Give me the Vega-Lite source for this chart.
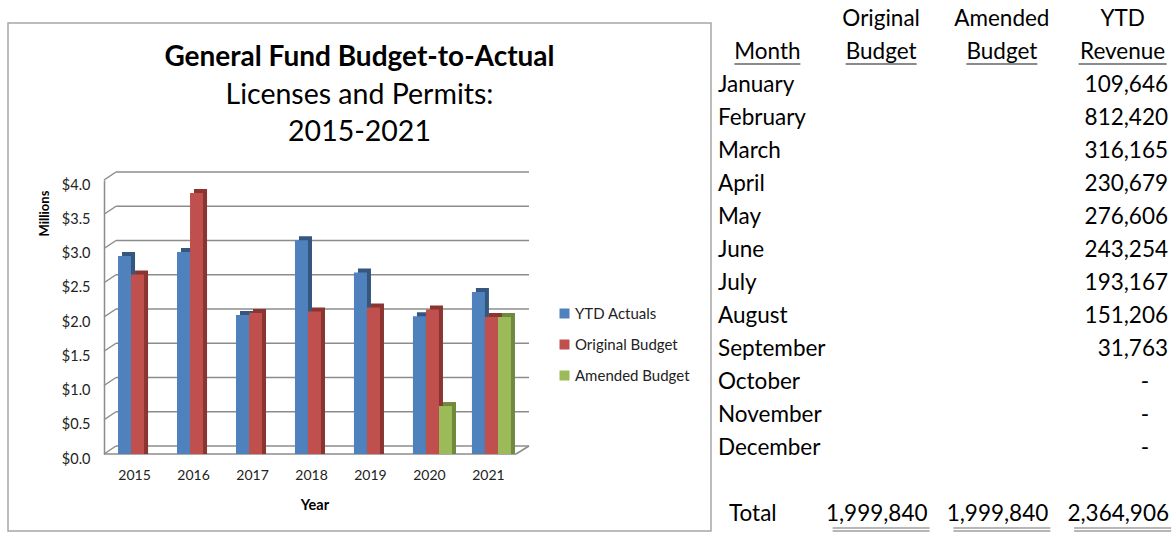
{
  "$schema": "https://vega.github.io/schema/vega-lite/v6.json",
  "background": "white",
  "padding": {"left": 7, "top": 8, "right": 7, "bottom": 0},
  "bounds": "flush",
  "spacing": 2,
  "config": {"font": "Lato", "view": {"stroke": null}},
  "datasets": {
    "bars": [
      {"year": "2015", "series": "YTD Actuals", "value": 2.89},
      {"year": "2015", "series": "Original Budget", "value": 2.62},
      {"year": "2016", "series": "YTD Actuals", "value": 2.95},
      {"year": "2016", "series": "Original Budget", "value": 3.81},
      {"year": "2017", "series": "YTD Actuals", "value": 2.03},
      {"year": "2017", "series": "Original Budget", "value": 2.06},
      {"year": "2018", "series": "YTD Actuals", "value": 3.12},
      {"year": "2018", "series": "Original Budget", "value": 2.08},
      {"year": "2019", "series": "YTD Actuals", "value": 2.65},
      {"year": "2019", "series": "Original Budget", "value": 2.14},
      {"year": "2020", "series": "YTD Actuals", "value": 2.01},
      {"year": "2020", "series": "Original Budget", "value": 2.11},
      {"year": "2020", "series": "Amended Budget", "value": 0.70},
      {"year": "2021", "series": "YTD Actuals", "value": 2.364906},
      {"year": "2021", "series": "Original Budget", "value": 1.99984},
      {"year": "2021", "series": "Amended Budget", "value": 1.99984}
    ],
    "grid": [{"v": 0}, {"v": 0.5}, {"v": 1}, {"v": 1.5}, {"v": 2}, {"v": 2.5}, {"v": 3}, {"v": 3.5}, {"v": 4}],
    "headers": [
      {"row": "h1", "col": "Original Budget", "text": "Original"},
      {"row": "h1", "col": "Amended Budget", "text": "Amended"},
      {"row": "h1", "col": "YTD Revenue", "text": "YTD"},
      {"row": "h2", "col": "Month", "text": "Month"},
      {"row": "h2", "col": "Original Budget", "text": "Budget"},
      {"row": "h2", "col": "Amended Budget", "text": "Budget"},
      {"row": "h2", "col": "YTD Revenue", "text": "Revenue"},
      {"row": "Total", "col": "Month", "text": "Total"}
    ],
    "monthly": [
      {"row": "January", "ytd": 109646},
      {"row": "February", "ytd": 812420},
      {"row": "March", "ytd": 316165},
      {"row": "April", "ytd": 230679},
      {"row": "May", "ytd": 276606},
      {"row": "June", "ytd": 243254},
      {"row": "July", "ytd": 193167},
      {"row": "August", "ytd": 151206},
      {"row": "September", "ytd": 31763},
      {"row": "October", "ytd": null},
      {"row": "November", "ytd": null},
      {"row": "December", "ytd": null}
    ],
    "totals": [
      {"row": "Total", "col": "Original Budget", "value": 1999840},
      {"row": "Total", "col": "Amended Budget", "value": 1999840},
      {"row": "Total", "col": "YTD Revenue", "value": 2364906}
    ]
  },
  "hconcat": [
    {
      "width": 703,
      "height": 508,
      "view": {"stroke": "#a6a6a6", "strokeWidth": 1.5},
      "title": {
        "text": "General Fund Budget-to-Actual",
        "subtitle": ["Licenses and Permits:", "2015-2021"],
        "anchor": "middle",
        "frame": "group",
        "offset": -123,
        "font": "Lato",
        "fontSize": 28,
        "fontWeight": "bold",
        "color": "#000000",
        "subtitleFont": "Lato",
        "subtitleFontSize": 28.5,
        "subtitleColor": "#000000",
        "subtitleLineHeight": 37,
        "subtitlePadding": 9
      },
      "layer": [
        {
          "data": {"name": "grid"},
          "mark": {"type": "rule", "color": "#8c8c8c", "strokeWidth": 1.5, "yOffset": -8},
          "encoding": {
            "x": {"datum": 12, "type": "quantitative", "scale": {"domain": [0, 425], "range": [96, 521]}, "axis": null},
            "x2": {"datum": 425},
            "y": {"field": "v", "type": "quantitative", "scale": {"domain": [0, 4], "range": [431, 157], "nice": false}}
          }
        },
        {
          "data": {"name": "grid"},
          "mark": {"type": "rule", "color": "#8c8c8c", "strokeWidth": 1.5, "y2Offset": -8},
          "encoding": {
            "x": {"datum": 0, "type": "quantitative", "scale": {"domain": [0, 425], "range": [96, 521]}, "axis": null},
            "x2": {"datum": 12},
            "y": {"field": "v", "type": "quantitative", "scale": {"domain": [0, 4], "range": [431, 157], "nice": false}},
            "y2": {"field": "v"}
          }
        },
        {
          "data": {"name": "grid"},
          "transform": [{"filter": "datum.v == 0"}],
          "mark": {"type": "rule", "color": "#8c8c8c", "strokeWidth": 1.5},
          "encoding": {
            "x": {"datum": 0, "type": "quantitative", "scale": {"domain": [0, 425], "range": [96, 521]}, "axis": null},
            "x2": {"datum": 412},
            "y": {"field": "v", "type": "quantitative", "scale": {"domain": [0, 4], "range": [431, 157], "nice": false}}
          }
        },
        {
          "data": {"name": "grid"},
          "transform": [{"filter": "datum.v == 0"}],
          "mark": {"type": "rule", "color": "#8c8c8c", "strokeWidth": 1.5, "y2Offset": -8},
          "encoding": {
            "x": {"datum": 412, "type": "quantitative", "scale": {"domain": [0, 425], "range": [96, 521]}, "axis": null},
            "x2": {"datum": 425},
            "y": {"field": "v", "type": "quantitative", "scale": {"domain": [0, 4], "range": [431, 157], "nice": false}},
            "y2": {"field": "v"}
          }
        },
        {
          "data": {"name": "bars"},
          "mark": {"type": "bar", "yOffset": -4},
          "encoding": {
            "x": {"field": "year", "type": "nominal", "scale": {"range": [104, 517], "paddingInner": 0.338, "paddingOuter": 0.17}, "axis": null},
            "xOffset": {"field": "series", "type": "nominal", "scale": {"domain": ["YTD Actuals", "Original Budget", "Amended Budget"], "paddingInner": 0, "paddingOuter": 0}},
            "y": {"field": "value", "type": "quantitative", "stack": null, "scale": {"domain": [0, 4], "range": [431, 157], "nice": false}},
            "color": {"field": "series", "type": "nominal", "scale": {"domain": ["YTD Actuals", "Original Budget", "Amended Budget"], "range": ["#34567f", "#8a3532", "#6f8a3c"]}, "legend": null}
          }
        },
        {
          "data": {"name": "bars"},
          "mark": {"type": "bar"},
          "encoding": {
            "x": {
              "field": "year", "type": "nominal",
              "scale": {"range": [100, 513], "paddingInner": 0.338, "paddingOuter": 0.17},
              "axis": {
                "orient": "bottom", "offset": -77, "domain": false, "ticks": false, "tickSize": 0,
                "labelPadding": 14, "labelAngle": 0, "labelFontSize": 14, "labelColor": "#222222", "labelOffset": -3,
                "title": "Year", "titleFontSize": 14.5, "titleFontWeight": "bold", "titleColor": "#000000", "titlePadding": 16
              }
            },
            "xOffset": {"field": "series", "type": "nominal", "scale": {"domain": ["YTD Actuals", "Original Budget", "Amended Budget"], "paddingInner": 0, "paddingOuter": 0}},
            "y": {
              "field": "value", "type": "quantitative", "stack": null,
              "scale": {"domain": [0, 4], "range": [431, 157], "nice": false},
              "axis": {
                "orient": "left", "offset": -96, "values": [0, 0.5, 1, 1.5, 2, 2.5, 3, 3.5, 4], "format": "$.1f",
                "domain": true, "domainColor": "#8c8c8c", "domainWidth": 1.5, "ticks": false, "tickSize": 0, "grid": false,
                "labelPadding": 14, "labelFontSize": 14.5, "labelColor": "#222222", "labelOffset": 5,
                "title": "Millions", "titleFontSize": 13, "titleFontWeight": "bold", "titleColor": "#000000", "titleX": -53, "titleY": 190
              }
            },
            "color": {
              "field": "series", "type": "nominal",
              "scale": {"domain": ["YTD Actuals", "Original Budget", "Amended Budget"], "range": ["#4f81bd", "#c0504d", "#9bbb59"]},
              "legend": {
                "orient": "none", "legendX": 549, "legendY": 283, "title": null, "padding": 0,
                "symbolType": "square", "symbolSize": 100, "symbolStrokeWidth": 0,
                "labelFontSize": 15, "labelColor": "#222222", "labelOffset": 3, "rowPadding": 15
              }
            }
          }
        }
      ],
      "resolve": {"scale": {"x": "independent", "xOffset": "independent", "color": "independent"}}
    },
    {
      "width": 457,
      "height": 508,
      "view": {"stroke": null},
      "layer": [
        {
          "data": {"name": "headers"},
          "transform": [{"filter": "datum.col != 'Month'"}],
          "mark": {"type": "text", "align": "center", "baseline": "middle", "fontSize": 22.5, "color": "#000000"},
          "encoding": {
            "x": {"field": "col", "type": "nominal", "scale": {"domain": ["Month", "Original Budget", "Amended Budget", "YTD Revenue"], "paddingInner": 0.215, "paddingOuter": 0}, "axis": null},
            "y": {"field": "row", "type": "nominal", "scale": {"type": "point", "domain": ["h1", "h2", "January", "February", "March", "April", "May", "June", "July", "August", "September", "October", "November", "December", "gap", "Total"], "range": [-4, 491], "padding": 0}, "axis": null},
            "text": {"field": "text"}
          }
        },
        {
          "data": {"name": "headers"},
          "transform": [{"filter": "datum.row == 'h2' && datum.col == 'Month'"}],
          "mark": {"type": "text", "align": "center", "baseline": "middle", "fontSize": 22.5, "color": "#000000", "dx": 7},
          "encoding": {
            "x": {"field": "col", "type": "nominal", "axis": null},
            "y": {"field": "row", "type": "nominal", "axis": null},
            "text": {"field": "text"}
          }
        },
        {
          "data": {"name": "headers"},
          "transform": [{"filter": "datum.row == 'Total'"}],
          "mark": {"type": "text", "align": "left", "baseline": "middle", "fontSize": 22.5, "color": "#000000", "dx": 16},
          "encoding": {
            "x": {"field": "col", "type": "nominal", "bandPosition": 0, "axis": null},
            "y": {"field": "row", "type": "nominal", "axis": null},
            "text": {"field": "text"}
          }
        },
        {
          "data": {"name": "headers"},
          "transform": [{"filter": "datum.row == 'h2' && datum.col != 'Month'"}],
          "mark": {"type": "tick", "orient": "horizontal", "thickness": 1.5, "color": "#222222", "yOffset": 12},
          "encoding": {
            "x": {"field": "col", "type": "nominal", "axis": null},
            "y": {"field": "row", "type": "nominal", "axis": null},
            "size": {"condition": {"test": "datum.text == 'Revenue'", "value": 88}, "value": 71}
          }
        },
        {
          "data": {"name": "headers"},
          "transform": [{"filter": "datum.row == 'h2' && datum.col == 'Month'"}],
          "mark": {"type": "tick", "orient": "horizontal", "thickness": 1.5, "color": "#222222", "yOffset": 12, "xOffset": 7},
          "encoding": {
            "x": {"field": "col", "type": "nominal", "axis": null},
            "y": {"field": "row", "type": "nominal", "axis": null},
            "size": {"value": 66}
          }
        },
        {
          "data": {"name": "monthly"},
          "mark": {"type": "text", "align": "left", "baseline": "middle", "fontSize": 22.5, "color": "#000000", "dx": 5},
          "encoding": {
            "x": {"datum": "Month", "type": "nominal", "bandPosition": 0, "axis": null},
            "y": {"field": "row", "type": "nominal", "axis": null},
            "text": {"field": "row"}
          }
        },
        {
          "data": {"name": "monthly"},
          "transform": [{"filter": "datum.ytd != null"}],
          "mark": {"type": "text", "align": "right", "baseline": "middle", "fontSize": 22.5, "color": "#000000", "dx": -2},
          "encoding": {
            "x": {"datum": "YTD Revenue", "type": "nominal", "bandPosition": 1, "axis": null},
            "y": {"field": "row", "type": "nominal", "axis": null},
            "text": {"field": "ytd", "type": "quantitative", "format": ","}
          }
        },
        {
          "data": {"name": "monthly"},
          "transform": [{"filter": "datum.ytd == null"}],
          "mark": {"type": "text", "align": "right", "baseline": "middle", "fontSize": 22.5, "color": "#000000", "dx": -21},
          "encoding": {
            "x": {"datum": "YTD Revenue", "type": "nominal", "bandPosition": 1, "axis": null},
            "y": {"field": "row", "type": "nominal", "axis": null},
            "text": {"value": "-"}
          }
        },
        {
          "data": {"name": "totals"},
          "mark": {"type": "text", "align": "right", "baseline": "middle", "fontSize": 22.5, "color": "#000000", "dx": -1},
          "encoding": {
            "x": {"field": "col", "type": "nominal", "bandPosition": 1, "axis": null},
            "y": {"field": "row", "type": "nominal", "axis": null},
            "text": {"field": "value", "type": "quantitative", "format": ","}
          }
        },
        {
          "data": {"name": "totals"},
          "mark": {"type": "tick", "orient": "horizontal", "thickness": 1.2, "color": "#333333", "yOffset": 14},
          "encoding": {
            "x": {"field": "col", "type": "nominal", "axis": null},
            "y": {"field": "row", "type": "nominal", "axis": null},
            "size": {"value": 97}
          }
        },
        {
          "data": {"name": "totals"},
          "mark": {"type": "tick", "orient": "horizontal", "thickness": 1.2, "color": "#333333", "yOffset": 17},
          "encoding": {
            "x": {"field": "col", "type": "nominal", "axis": null},
            "y": {"field": "row", "type": "nominal", "axis": null},
            "size": {"value": 97}
          }
        }
      ]
    }
  ]
}
